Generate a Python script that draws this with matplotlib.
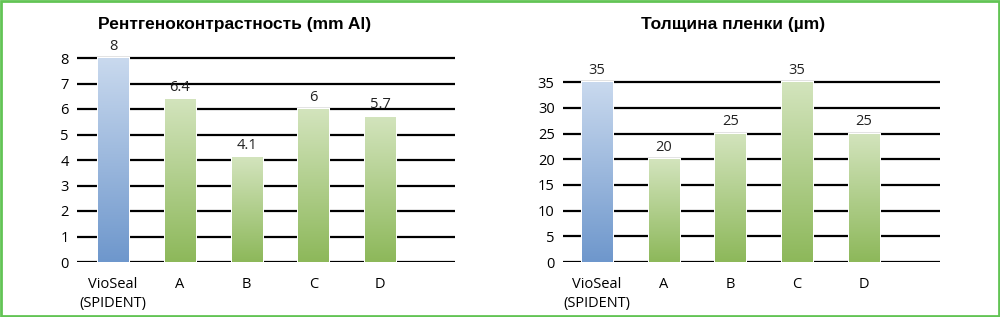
import numpy as np
import matplotlib
matplotlib.use("Agg")
import matplotlib.pyplot as plt
from matplotlib.colors import LinearSegmentedColormap
from matplotlib.patches import Rectangle

# data
categories = ["VioSeal\n(SPIDENT)", "A", "B", "C", "D"]
radio_vals = [8, 6.4, 4.1, 6, 5.7]
radio_labels = ["8", "6.4", "4.1", "6", "5.7"]
film_vals = [35, 20, 25, 35, 25]
film_labels = ["35", "20", "25", "35", "25"]

title_left = "Рентгеноконтрастность (mm Al)"
title_right = "Толщина пленки (µm)"

blue_cm = LinearSegmentedColormap.from_list("b", ["#6e97cc", "#c9d9ee"])
green_cm = LinearSegmentedColormap.from_list("g", ["#8db85a", "#d3e4bd"])

fig = plt.figure(figsize=(10, 3.17), dpi=100)
fig.patch.set_facecolor("white")

grad = np.linspace(0, 1, 256).reshape(-1, 1)


def draw_panel(ax, vals, labels, yticks, ymax, xl, xr):
    x = np.arange(len(vals))
    for t in yticks:
        ax.plot([xl, xr], [t, t], color="black", lw=1.6, zorder=1,
                solid_capstyle="butt")
    bars = ax.bar(x, vals, width=0.45, color="none", edgecolor="white",
                  linewidth=2.2, zorder=2)
    for i, b in enumerate(bars):
        cm = blue_cm if i == 0 else green_cm
        im = ax.imshow(grad, cmap=cm, origin="lower", aspect="auto",
                       extent=[b.get_x(), b.get_x() + b.get_width(), 0, b.get_height()],
                       zorder=3)
        im.set_clip_path(b)
        ax.annotate(labels[i], (x[i], vals[i]), xytext=(0, 3),
                    textcoords="offset points", ha="center", va="bottom",
                    fontsize=10.5, family="Open Sans", color="#222222",
                    annotation_clip=False, zorder=5)
    ax.set_xlim(xl, xr)
    ax.set_ylim(0, ymax)
    ax.set_yticks(yticks)
    ax.set_yticklabels([str(t) for t in yticks], family="Open Sans", fontsize=10.5)
    ax.set_xticks(x)
    ax.set_xticklabels(categories, family="Open Sans", fontsize=10.5,
                       linespacing=1.35, va="top")
    ax.tick_params(length=0, pad=6)
    ax.tick_params(axis="x", pad=11)
    for s in ax.spines.values():
        s.set_visible(False)
    ax.set_facecolor("none")


ax1 = fig.add_axes([0.077, 55 / 317, 0.378, 8.6 * 25.5 / 317])
draw_panel(ax1, radio_vals, radio_labels, list(range(0, 9)), 8.6, -0.54, 5.12)

ax2 = fig.add_axes([0.563, 55 / 317, 0.377, 38.5 * 5.14 / 317])
draw_panel(ax2, film_vals, film_labels, list(range(0, 40, 5)), 38.5, -0.51, 5.14)

fig.text(0.235, 0.922, title_left, ha="center", va="center", fontsize=12.5,
         fontweight="bold", family="Liberation Sans")
fig.text(0.733, 0.922, title_right, ha="center", va="center", fontsize=12.5,
         fontweight="bold", family="Liberation Sans")

# green frame
fig.patches.append(Rectangle((0.001, 0.003), 0.998, 0.994, transform=fig.transFigure,
                             fill=False, edgecolor="#62c455", lw=2))

fig.savefig("out.png", dpi=100)
